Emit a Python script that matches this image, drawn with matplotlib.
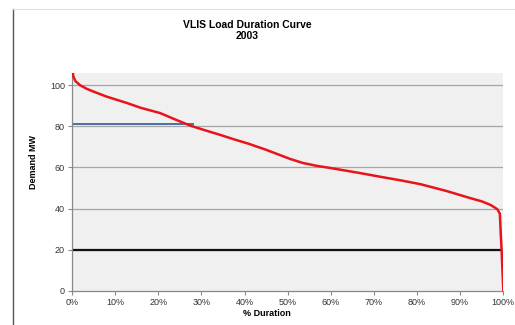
import matplotlib.pyplot as plt
from matplotlib.lines import Line2D
from matplotlib.ticker import PercentFormatter

plt.rcParams['font.family'] = ['Liberation Sans', 'DejaVu Sans']

# load duration curve
duration_pct = [0, 0.3, 0.8, 1.9, 3.4, 4.9, 8, 12.7, 16, 20.4, 24, 27.5, 31,
                34.3, 37.4, 41, 45, 48, 50.5, 53.5, 56.7, 60, 66.7, 71.4, 76,
                80.7, 84, 86.9, 92.3, 95, 97, 98.6, 99.2, 99.3, 99.4, 99.6,
                100]
demand_mw = [110, 104.4, 102, 100, 98.3, 97, 94.5, 91.4, 89, 86.5, 83.3,
             80.3, 78, 75.9, 73.8, 71.5, 68.6, 66.2, 64.2, 62.2, 60.8, 59.7,
             57.3, 55.5, 53.8, 51.9, 50.1, 48.5, 45.1, 43.5, 41.8, 39.7,
             37.5, 33, 28, 19.9, 0]

# reference levels
blue_level = 81
blue_end_pct = 28
black_level = 20
black_end_pct = 99.4

y_ticks = [0, 20, 40, 60, 80, 100]
x_ticks = list(range(0, 101, 10))

fig = plt.figure(figsize=(5.15, 3.25), dpi=100)
ax = fig.add_axes([0.1398, 0.1055, 0.8375, 0.67])
ax.set_facecolor('#f0f0f0')

for y in y_ticks[1:]:
    ax.axhline(y, color='#a6a6a6', linewidth=0.9, zorder=1)

ax.plot([0, black_end_pct], [black_level, black_level], color='#111111',
        linewidth=1.6, zorder=2)
ax.plot([0, blue_end_pct], [blue_level, blue_level], color='#4a6fa5',
        linewidth=1.4, zorder=2)
ax.plot(duration_pct, demand_mw, color='#e8141b', linewidth=1.8, zorder=3,
        solid_joinstyle='round')

ax.set_xlim(0, 100)
ax.set_ylim(0, 106)
ax.set_xticks(x_ticks)
ax.set_yticks(y_ticks)
ax.xaxis.set_major_formatter(PercentFormatter(decimals=0))
ax.tick_params(labelsize=6.5, colors='#333333', length=3, width=0.8,
               color='#888888', pad=2)

for side in ('top', 'right'):
    ax.spines[side].set_visible(False)
for side in ('left', 'bottom'):
    ax.spines[side].set_color('#888888')
    ax.spines[side].set_linewidth(0.9)

fig.text(247 / 515, 1 - 25 / 325, 'VLIS Load Duration Curve', ha='center',
         va='center', fontsize=7.5, fontweight='bold')
fig.text(247 / 515, 1 - 36 / 325, '2003', ha='center', va='center',
         fontsize=7.5, fontweight='bold')
fig.text(33 / 515, 1 - 162 / 325, 'Demand MW', rotation=90, ha='center',
         va='center', fontsize=6.5, fontweight='bold')
fig.text(267 / 515, 1 - 314 / 325, '% Duration', ha='center', va='center',
         fontsize=6.5, fontweight='bold')

# outer chart frame (left and top edges)
fig.add_artist(Line2D([13 / 515, 13 / 515], [0, 1 - 9 / 325],
                      transform=fig.transFigure, color='#555555', linewidth=1))
fig.add_artist(Line2D([13 / 515, 1], [1 - 9 / 325, 1 - 9 / 325],
                      transform=fig.transFigure, color='#dddddd', linewidth=0.8))

fig.savefig('out.png', dpi=100)
